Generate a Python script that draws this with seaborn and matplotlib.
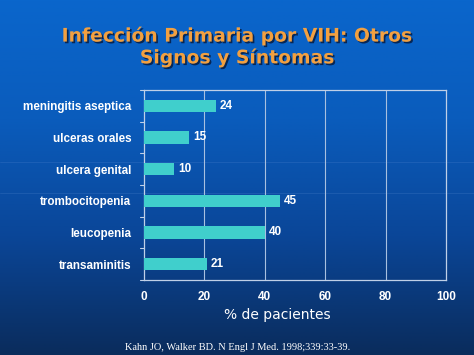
import numpy as np
import pandas as pd
import matplotlib
matplotlib.use("Agg")
import matplotlib.pyplot as plt
import matplotlib.patheffects as pe
from matplotlib.colors import LinearSegmentedColormap
import seaborn as sns

categories = ["meningitis aseptica", "ulceras orales", "ulcera genital",
              "trombocitopenia", "leucopenia", "transaminitis"]
values = [24, 15, 10, 45, 40, 21]
xticks = [0, 20, 40, 60, 80, 100]
title = "Infección Primaria por VIH: Otros\nSignos y Síntomas"
xlabel = "% de pacientes"
footer = "Kahn JO, Walker BD. N Engl J Med. 1998;339:33-39."

sns.set_theme(style="white")
plt.rcParams['font.family'] = ['DejaVu Sans']

fig = plt.figure(figsize=(4.74, 3.55), dpi=100)

# background gradient
bg = fig.add_axes([0, 0, 1, 1], zorder=-10)
cmap = LinearSegmentedColormap.from_list("bg", ["#0a2c5c", "#0a4698", "#0a5cbc", "#0a66cc"])
grad = np.linspace(0, 1, 256).reshape(-1, 1)
bg.imshow(grad, aspect="auto", cmap=cmap, origin="lower", extent=[0, 1, 0, 1])
bg.set_axis_off()
for yy in [1 - 162 / 355, 1 - 193 / 355]:
    bg.axhline(yy, color="#6fa0e0", lw=0.6, alpha=0.2)

df = pd.DataFrame({"cat": categories, "val": values})
ax = fig.add_axes([144 / 474, 1 - 280 / 355, 302 / 474, 190 / 355])
ax.patch.set_alpha(0)
sns.barplot(data=df, y="cat", x="val", orient="h", color="#40cfcc",
            width=0.38, saturation=1, ax=ax, edgecolor="none", zorder=3)
ax.set_xlim(0, 100)
ax.set_ylim(5.5, -0.5)
ax.set_xticks(xticks)
ax.set_xticklabels([str(t) for t in xticks], color="white", fontweight="bold",
                   fontsize=8.5, family="Liberation Sans")
ax.set_yticks(range(len(categories)))
ax.set_yticklabels(categories, color="white", fontweight="bold", fontsize=8.4,
                   family="Liberation Sans")
ax.tick_params(axis="y", length=0, pad=9)
ax.tick_params(axis="x", length=4, color="#c0d0e8", width=0.8, pad=4, direction="out")
# boundary ticks on y axis
for b in np.arange(-0.5, 6, 1):
    ax.plot([-1.3, 0], [b, b], color="#c0d0e8", lw=0.8, clip_on=False, zorder=4)
for g in xticks[1:-1]:
    ax.axvline(g, color="#a8c0e0", lw=0.8, zorder=1)
for s in ax.spines.values():
    s.set_color("#c0d0e8")
    s.set_linewidth(0.9)
ax.set_xlabel("")
ax.set_ylabel("")
for i, v in enumerate(values):
    ax.text(v + 1.2, i, str(v), va="center", ha="left", color="white",
            fontweight="bold", fontsize=8.5, family="Liberation Sans", zorder=5)

fig.text(0.5, 1 - 46.5 / 355, title, ha="center", va="center", color="#f2a040",
         fontsize=13.5, fontweight="bold", linespacing=1.15,
         path_effects=[pe.withSimplePatchShadow(offset=(1.2, -1.2), shadow_rgbFace="#06183a", alpha=0.8)])
fig.text(277 / 474, 1 - 315 / 355, xlabel, ha="center", va="center", color="white",
         fontsize=10, family="DejaVu Sans")
fig.text(125 / 474, 1 - 347 / 355, footer, ha="left", va="center", color="white",
         fontsize=7.5, family="Liberation Serif")

fig.savefig("out.png", dpi=100)
